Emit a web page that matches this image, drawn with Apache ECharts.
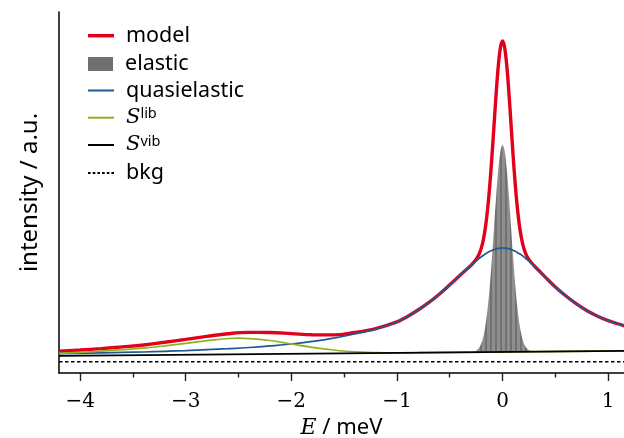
<!DOCTYPE html>
<html><head><meta charset="utf-8">
<script src="https://cdn.jsdelivr.net/npm/echarts@6/dist/echarts.min.js"></script>
<style>html,body{margin:0;padding:0;background:#fff}#c{width:624px;height:438px}</style>
</head><body><div id="c"></div>
<script>
// ---- data (energy in meV, intensity in arbitrary units) ----
const energy = [-4.2,-4.0,-3.8,-3.6,-3.4,-3.2,-3.0,-2.8,-2.6,-2.4,-2.2,-2.0,-1.8,-1.6,-1.4,-1.2,-1.0,
  -0.9,-0.8,-0.7,-0.6,-0.5,-0.4,
  -0.3,-0.28,-0.26,-0.24,-0.22,-0.2,-0.18,-0.16,-0.14,-0.12,-0.1,-0.08,-0.06,-0.04,-0.02,0,
  0.02,0.04,0.06,0.08,0.1,0.12,0.14,0.16,0.18,0.2,0.22,0.24,0.26,0.28,0.3,
  0.4,0.5,0.6,0.7,0.8,0.9,1.0,1.1,1.2];
const quasielastic = [19.3,19.7,20.1,20.6,21.0,21.7,22.4,23.3,24.3,25.5,27.1,29.0,31.6,34.8,39.1,43.9,51.0,
  56.6,63.0,70.3,78.8,88.2,98.0,
  107.4,109.3,111.2,113.0,114.7,116.3,117.8,119.3,120.6,121.7,122.6,123.4,124.1,124.6,124.9,125.0,
  124.9,124.6,124.3,123.6,122.7,121.8,120.6,119.3,117.9,116.2,114.5,112.7,110.9,109.0,107.0,
  96.4,86.0,77.0,69.1,62.2,56.8,52.4,49.0,45.6];
const model = [21.8,23.0,24.4,26.1,28.0,30.7,33.6,36.6,39.3,40.6,40.5,39.4,38.2,38.1,40.5,44.4,51.1,
  56.6,63.0,70.3,78.8,88.2,98.0,
  107.6,109.8,112.3,115.3,119.4,125.4,134.3,147.3,165.4,188.9,217.4,249.0,280.3,307.3,325.5,332.0,
  325.5,307.3,280.5,249.2,217.5,189.0,165.4,147.3,134.4,125.3,119.2,115.0,112.0,109.5,107.2,
  96.4,86.0,77.0,69.1,62.2,56.8,52.4,49.0,45.6];
const libEnergy = [-4.2,-4.0,-3.8,-3.6,-3.4,-3.2,-3.0,-2.8,-2.6,-2.5,-2.4,-2.2,-2.0,-1.8,-1.6,-1.4,-1.2,-1.0,-0.8,1.2];
const libration = [19.7,20.7,21.9,23.3,24.9,27.1,29.6,32.3,34.5,34.8,34.4,32.5,29.0,25.7,23.0,21.1,20.4,20.2,20.3,22.1];
const vibEnergy = [-4.2, 1.2];
const vibrational = [17.2, 22.1];
const bkgEnergy = [-4.2, 1.2];
const background = [11.3, 11.3];
const elasticEnergy = [-0.3,-0.28,-0.26,-0.24,-0.22,-0.2,-0.18,-0.16,-0.14,-0.12,-0.1,-0.08,-0.06,-0.04,-0.02,0,
  0.02,0.04,0.06,0.08,0.1,0.12,0.14,0.16,0.18,0.2,0.22,0.24,0.26,0.28,0.3];
const elastic = [20.9,21.2,21.8,23.1,25.5,29.9,37.3,48.9,65.7,88.1,115.7,146.5,177.2,203.7,221.6,228.0,
  221.6,203.7,177.3,146.7,115.9,88.3,65.9,49.1,37.7,30.3,25.9,23.5,22.3,21.7,21.5];
const elasticBase = 21;
const majorTicks = [-4,-3,-2,-1,0,1];
const minorTicks = [-3.5,-2.5,-1.5,-0.5,0.5];
const legendNames = ['model','elastic','quasielastic','Slib','Svib','bkg'];
const legendLabels = ['model','elastic','quasielastic','{s|S}{sup|lib}','{s|S}{sup|vib}','bkg'];

// ---- styling ----
const RED = '#e2001a', BLUE = '#1c5a93', GREEN = '#8fb320', GRAY = '#6f6f6f';
const pair = (xs, ys) => xs.map((x, i) => [x, ys[i]]);

const pat = document.createElement('canvas');
pat.width = 5; pat.height = 4;
const pc = pat.getContext('2d');
pc.fillStyle = '#8e8e8e'; pc.fillRect(0, 0, 5, 4);
pc.fillStyle = '#717171'; pc.fillRect(0, 0, 2, 4);

const chart = echarts.init(document.getElementById('c'), null, {renderer: 'canvas'});

const legendRows = [
  {top: 24.7, w: 26, h: 3.5, icon: 'rect', color: RED},
  {top: 53, w: 25, h: 14, icon: 'rect', color: GRAY},
  {top: 79.5, w: 26, h: 2, icon: 'rect', color: BLUE},
  {top: 106.7, w: 26, h: 2, icon: 'rect', color: GREEN},
  {top: 134, w: 26, h: 2, icon: 'rect', color: '#000'},
  {top: 162, w: 26, h: 2, icon: 'path://M0,0h2.6v2h-2.6zM4.7,0h2.6v2h-2.6zM9.4,0h2.6v2h-2.6zM14.1,0h2.6v2h-2.6zM18.8,0h2.6v2h-2.6zM23.4,0h2.6v2h-2.6z', color: '#000'}
];
const legends = legendRows.map((r, i) => ({
  data: [{name: legendNames[i], icon: r.icon, itemStyle: {color: r.color, borderWidth: 0}}],
  left: 88, top: r.top, padding: 0, orient: 'vertical',
  itemWidth: r.w, itemHeight: r.h, selectedMode: false,
  itemStyle: {borderWidth: 0},
  formatter: () => legendLabels[i],
  textStyle: {
    fontFamily: 'Noto Sans', fontSize: 21.5, color: '#000', lineHeight: 22, padding: [0, 0, 0, 7],
    rich: {
      s: {fontFamily: 'DejaVu Serif', fontStyle: 'italic', fontSize: 21, lineHeight: 22, color: '#000'},
      sup: {fontFamily: 'Noto Sans', fontSize: 14.5, lineHeight: 14, verticalAlign: 'top', color: '#000'}
    }
  }
}));

const lineBase = {type: 'line', showSymbol: false, symbol: 'none', silent: true, animation: false};

chart.setOption({
  animation: false,
  backgroundColor: '#fff',
  grid: {left: 59, right: 0, top: 12, bottom: 65, containLabel: false, outerBoundsMode: 'none'},
  legend: legends,
  xAxis: [{
    type: 'value', min: -4.2, max: 1.15,
    name: '{e|E}{t| / meV}', nameLocation: 'middle', nameGap: 41,
    nameTextStyle: {rich: {
      e: {fontFamily: 'DejaVu Serif', fontStyle: 'italic', fontSize: 22, color: '#000'},
      t: {fontFamily: 'Noto Sans', fontSize: 22, color: '#000'}
    }},
    axisLine: {show: true, onZero: false, lineStyle: {color: '#000', width: 1.5}},
    axisTick: {show: true, length: 8, customValues: majorTicks, lineStyle: {color: '#222', width: 1.4}},
    axisLabel: {show: true, customValues: majorTicks, margin: 19,
      fontFamily: 'DejaVu Serif', fontSize: 20, color: '#000',
      formatter: v => String(v).replace('-', '\u2212')},
    splitLine: {show: false}
  }, {
    type: 'value', min: -4.2, max: 1.15, position: 'bottom', gridIndex: 0,
    axisLine: {show: false, onZero: false},
    axisTick: {show: true, length: 4.5, customValues: minorTicks, lineStyle: {color: '#222', width: 1.4}},
    axisLabel: {show: false}, splitLine: {show: false}
  }],
  yAxis: {
    type: 'value', min: 0, max: 361, position: 'left',
    name: 'intensity / a.u.', nameLocation: 'middle', nameGap: 17,
    nameTextStyle: {fontFamily: 'Noto Sans', fontSize: 24, color: '#000'},
    axisLine: {show: true, onZero: false, lineStyle: {color: '#000', width: 1.5}},
    axisTick: {show: false}, axisLabel: {show: false}, splitLine: {show: false}
  },
  series: [
    Object.assign({}, lineBase, {
      name: 'elastic', data: pair(elasticEnergy, elastic), smooth: 0.4,
      color: GRAY, itemStyle: {color: GRAY},
      lineStyle: {width: 0, color: 'rgba(0,0,0,0)'},
      areaStyle: {origin: elasticBase, opacity: 1, color: {image: pat, repeat: 'repeat'}}
    }),
    Object.assign({}, lineBase, {
      name: 'model', data: pair(energy, model), smooth: 0.4,
      color: RED, lineStyle: {color: RED, width: 3.4}
    }),
    Object.assign({}, lineBase, {
      name: 'quasielastic', data: pair(energy, quasielastic), smooth: 0.4,
      color: BLUE, lineStyle: {color: BLUE, width: 1.7}
    }),
    Object.assign({}, lineBase, {
      name: 'Slib', data: pair(libEnergy, libration), smooth: 0.4,
      color: GREEN, lineStyle: {color: GREEN, width: 1.7}
    }),
    Object.assign({}, lineBase, {
      name: 'Svib', data: pair(vibEnergy, vibrational),
      color: '#000', lineStyle: {color: '#000', width: 1.8}
    }),
    Object.assign({}, lineBase, {
      name: 'bkg', data: pair(bkgEnergy, background),
      color: '#000', lineStyle: {color: '#000', width: 1.5, type: [3.5, 2.5]}
    })
  ]
});
</script>
</body></html>
